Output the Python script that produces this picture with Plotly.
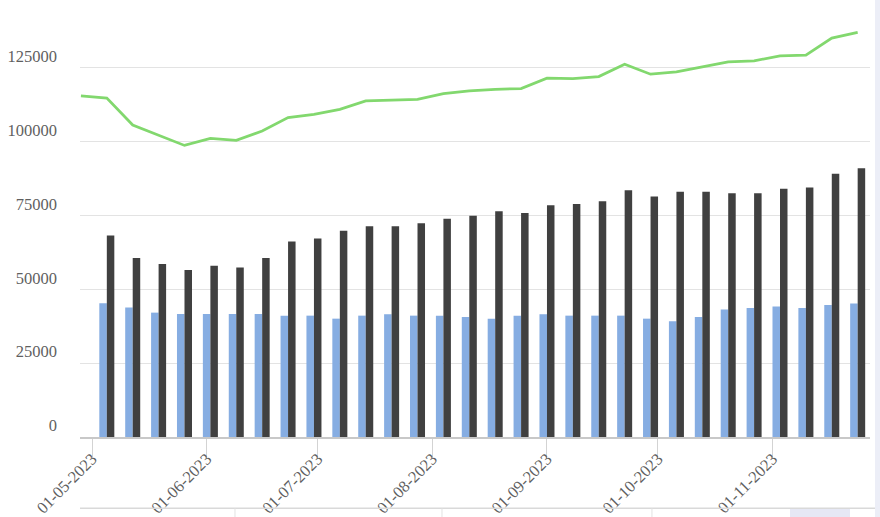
import plotly.graph_objects as go

# ---- data ----
line_dates = ["2023-04-28", "2023-05-05", "2023-05-12", "2023-05-19", "2023-05-26",
              "2023-06-02", "2023-06-09", "2023-06-16", "2023-06-23", "2023-06-30",
              "2023-07-07", "2023-07-14", "2023-07-21", "2023-07-28", "2023-08-04",
              "2023-08-11", "2023-08-18", "2023-08-25", "2023-09-01", "2023-09-08",
              "2023-09-15", "2023-09-22", "2023-09-29", "2023-10-06", "2023-10-13",
              "2023-10-20", "2023-10-27", "2023-11-03", "2023-11-10", "2023-11-17",
              "2023-11-24"]
bar_dates = line_dates[1:]

line_values = [115500, 114800, 105650, 102250, 98750, 101130, 100450, 103610, 108160,
               109280, 110980, 113800, 114140, 114370, 116300, 117200, 117770, 118000,
               121500, 121400, 122080, 126270, 122870, 123650, 125350, 127050, 127390,
               129090, 129320, 135100, 137030]
dark_values = [68280, 60600, 58560, 56520, 57990, 57410, 60600, 66240, 67260, 69870,
               71340, 71340, 72360, 73950, 74970, 76430, 75890, 78470, 78940, 79830,
               83570, 81430, 83020, 83020, 82550, 82550, 84040, 84480, 89130, 91040]
blue_values = [45310, 43820, 42120, 41680, 41680, 41680, 41680, 41100, 41100, 40080,
               41100, 41580, 41100, 41100, 40660, 40080, 41100, 41580, 41100, 41100,
               41100, 40080, 39200, 40660, 43140, 43720, 44160, 43720, 44740, 45180]

tick_dates = ["2023-05-01", "2023-06-01", "2023-07-01", "2023-08-01",
              "2023-09-01", "2023-10-01", "2023-11-01"]
tick_labels = ["01-05-2023", "01-06-2023", "01-07-2023", "01-08-2023",
               "01-09-2023", "01-10-2023", "01-11-2023"]
y_ticks = [0, 25000, 50000, 75000, 100000, 125000]

FONT = "Times New Roman, Liberation Serif, DejaVu Serif, serif"
TXT = "#5f5f5f"

fig = go.Figure()
fig.add_trace(go.Bar(x=bar_dates, y=blue_values, marker=dict(color="#86ade2", line_width=0),
                     name="A"))
fig.add_trace(go.Bar(x=bar_dates, y=dark_values, marker=dict(color="#404040", line_width=0),
                     name="B"))
fig.add_trace(go.Scatter(x=line_dates, y=line_values, mode="lines",
                         line=dict(color="#82d86e", width=2.75), name="C"))

fig.update_layout(
    width=880, height=517,
    margin=dict(l=80, r=10, t=0, b=80, autoexpand=False),
    paper_bgcolor="white", plot_bgcolor="white",
    barmode="group", bargap=0.42, bargroupgap=0,
    showlegend=False,
    font=dict(family=FONT, color=TXT, size=16.5),
)
fig.update_xaxes(
    type="date", automargin=False,
    range=["2023-04-27 18:00", "2023-11-27 08:00"],
    tickmode="array", tickvals=tick_dates, ticktext=tick_labels,
    tickangle=-45, tickfont=dict(family=FONT, size=16.5, color=TXT),
    ticks="outside", ticklen=20, tickcolor="#d3d3d3", tickwidth=1,
    ticklabelstandoff=-16,
    showline=True, linecolor="#c8c8c8", linewidth=1.5,
    showgrid=False, zeroline=False,
)
fig.update_yaxes(
    range=[0, 148000], automargin=False,
    tickmode="array", tickvals=y_ticks, ticktext=[str(v) for v in y_ticks],
    tickfont=dict(family=FONT, size=16.5, color=TXT),
    ticklabelposition="outside top", ticklabelstandoff=22,
    showgrid=True, gridcolor="#e3e3e3", gridwidth=1,
    zeroline=False, showline=False, ticks="",
)

# screenshot frame decorations (window chrome around the chart)
fig.add_shape(type="rect", xref="paper", yref="paper", x0=1.0063, x1=1.02, y0=-0.2, y1=1.0,
              fillcolor="#eceef7", line_width=0, layer="below")
fig.add_shape(type="rect", xref="paper", yref="paper", x0=0.8987, x1=0.9747, y0=-0.2, y1=-0.163,
              fillcolor="#e6e8f5", line_width=0, layer="below")
fig.add_shape(type="line", xref="paper", yref="paper", x0=0, x1=1.0063, y0=-0.163, y1=-0.163,
              line=dict(color="#d9d9d9", width=1.5))
for xp in [0.1962, 0.4582, 0.724]:
    fig.add_shape(type="line", xref="paper", yref="paper", x0=xp, x1=xp, y0=-0.2, y1=-0.163,
                  line=dict(color="#e2e2e2", width=1))

fig.write_html("out.html", config={"displayModeBar": False},
               post_script="document.body.style.margin='0';")
